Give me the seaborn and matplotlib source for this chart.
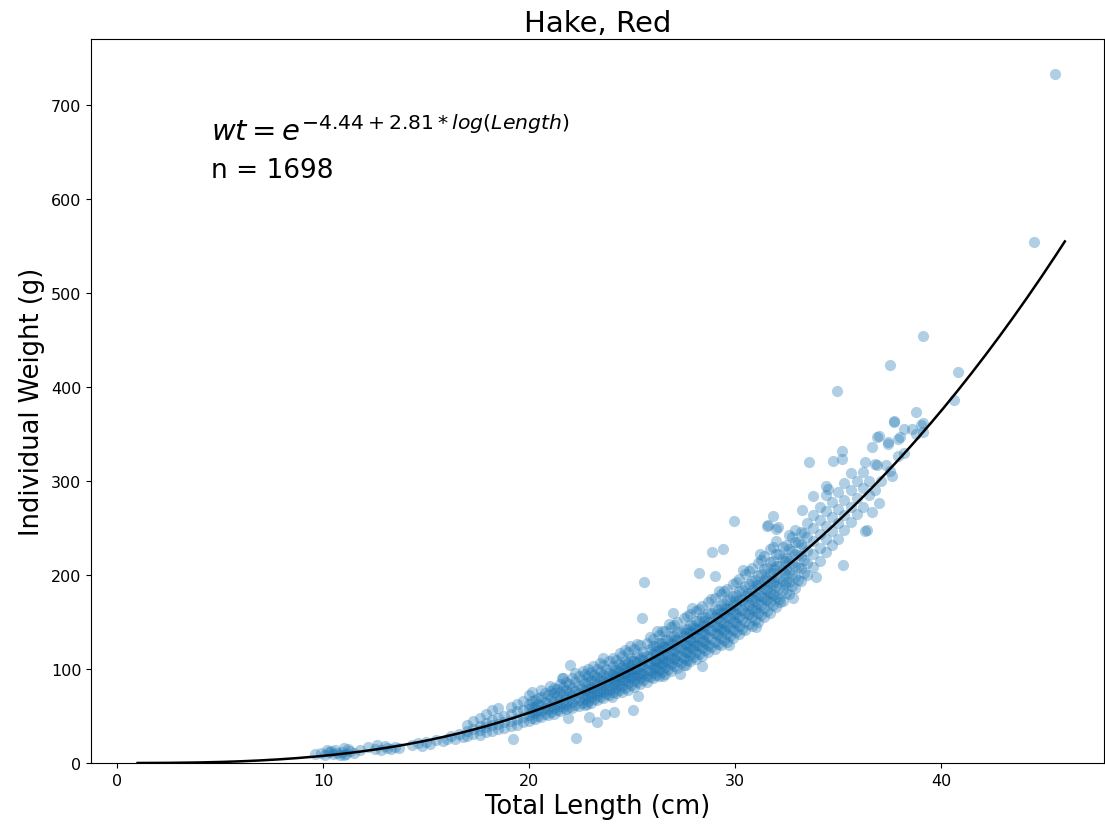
import numpy as np
import pandas as pd
import matplotlib
matplotlib.use('Agg')
import matplotlib.pyplot as plt
import seaborn as sns

# Coeficientes del ajuste mostrado en el grafico
intercepto = -4.44
pendiente = 2.81
n_total = 1698

# Peces pequenos (zona dispersa)
small_len = [9.6, 9.9, 10.1, 10.3, 10.5, 10.6, 10.8, 10.9, 11.0, 11.1, 11.3, 11.5, 11.8, 12.2, 12.5, 12.6, 12.8,
             13.0, 13.1, 13.3, 13.5, 13.7, 14.3, 14.6, 14.8, 15.0, 15.2, 15.5, 15.8, 16.0, 16.2, 16.4, 16.6, 16.8,
             10.4, 10.7, 11.0, 11.2, 10.2]
small_wt = [10, 11, 9, 12, 10, 14, 8, 12, 16, 10, 13, 11, 14, 17, 15, 19, 14,
            18, 16, 15, 17, 16, 19, 21, 18, 22, 20, 24, 23, 26, 29, 25, 31, 28,
            13, 11, 9, 15, 14]

# Banda principal: longitud -> pesos
band = {
    17.0: [29, 34, 40], 17.3: [31, 36, 45], 17.6: [30, 35, 39, 48], 17.9: [33, 38, 43, 52],
    18.2: [34, 40, 46, 56], 18.5: [36, 42, 48, 58], 18.8: [37, 44, 50], 19.1: [39, 45, 52, 60],
    19.4: [40, 47, 55, 63], 19.7: [44, 49, 56, 66], 20.0: [45, 51, 57, 63, 72], 20.3: [47, 53, 60, 67],
    20.6: [49, 55, 62, 70, 78], 20.9: [51, 57, 64, 72], 21.2: [52, 59, 66, 74, 80],
    21.5: [55, 61, 68, 76, 84], 21.8: [57, 63, 70, 78, 86], 22.1: [59, 65, 72, 80, 90],
    22.4: [61, 67, 74, 82, 92], 22.7: [62, 68, 73, 78, 85, 95], 23.0: [64, 70, 75, 81, 88, 97],
    23.3: [67, 72, 78, 84, 91, 100], 23.6: [69, 75, 81, 87, 94, 104], 23.9: [72, 78, 83, 89, 96, 108],
    24.2: [74, 80, 86, 92, 99, 110], 24.5: [76, 82, 88, 95, 102, 114], 24.8: [78, 85, 91, 98, 106, 118],
    25.1: [81, 87, 94, 100, 108, 121], 25.4: [84, 90, 96, 103, 111, 125], 25.7: [86, 93, 99, 106, 114, 128],
    26.0: [90, 96, 102, 109, 116, 124, 132], 26.3: [92, 99, 105, 112, 120, 128, 136],
    26.6: [95, 102, 109, 116, 123, 131, 140], 26.9: [98, 105, 112, 119, 127, 135, 145],
    27.2: [101, 108, 115, 123, 131, 139, 150], 27.5: [104, 112, 119, 127, 135, 143, 154],
    27.8: [108, 115, 123, 131, 139, 147, 158], 28.1: [111, 118, 126, 134, 142, 151, 162],
    28.4: [114, 122, 130, 138, 146, 155, 167], 28.7: [118, 126, 134, 142, 150, 159, 171],
    29.0: [121, 129, 138, 146, 155, 164, 176], 29.3: [125, 133, 142, 150, 159, 168, 180],
    29.6: [129, 137, 146, 155, 164, 173, 185], 29.9: [133, 141, 150, 159, 168, 178, 190],
    30.2: [137, 146, 155, 164, 173, 183, 196], 30.5: [141, 150, 159, 168, 178, 188, 201],
    30.8: [146, 155, 164, 174, 184, 194, 207], 31.1: [150, 160, 169, 179, 189, 200, 213],
    31.4: [155, 165, 175, 185, 195, 206, 220], 31.7: [160, 171, 181, 191, 202, 214, 228],
    32.0: [166, 177, 188, 198, 210, 222, 236], 32.3: [172, 184, 195, 206, 218, 230],
    32.6: [180, 192, 203, 215, 228, 242], 32.9: [186, 198, 210, 222, 235, 248],
    33.2: [194, 207, 220, 233, 246], 33.5: [200, 213, 226, 240, 255], 33.8: [208, 222, 236, 250, 264],
    34.1: [215, 229, 244, 258, 272], 34.4: [224, 238, 252, 268, 285], 34.7: [232, 247, 262, 278],
    35.0: [238, 255, 270, 288], 35.3: [248, 264, 280, 298], 35.6: [256, 272, 290, 308],
    35.9: [265, 282, 300], 36.2: [272, 292, 310], 36.5: [285, 300], 36.8: [290, 318],
    37.1: [300], 37.6: [305], 38.2: [330, 355], 38.6: [355], 39.0: [360],
}

# Columnas intermedias de la banda (mas densidad)
band_b = {
    20.15: [48, 54, 60, 66, 75], 20.45: [50, 56, 63, 69], 20.75: [52, 58, 65, 74],
    21.05: [54, 61, 69, 77], 21.35: [56, 63, 71, 79], 21.65: [58, 65, 73, 81, 90],
    21.95: [60, 68, 76, 84], 22.25: [62, 69, 77, 86, 96], 22.55: [64, 71, 79, 88],
    22.85: [66, 72, 79, 86, 92, 100], 23.15: [68, 74, 80, 87, 94], 23.45: [70, 77, 83, 89, 97, 106],
    23.75: [73, 79, 85, 92, 100], 24.05: [75, 82, 88, 95, 103, 112], 24.35: [78, 84, 91, 98, 105],
    24.65: [80, 87, 94, 101, 109, 120], 24.95: [83, 90, 97, 104, 112], 25.25: [86, 93, 100, 107, 116, 127],
    25.55: [88, 95, 102, 110, 118], 25.85: [91, 98, 105, 113, 121, 134], 26.15: [94, 101, 108, 116, 124],
    26.45: [97, 104, 112, 120, 128, 140], 26.75: [100, 107, 115, 123, 131], 27.05: [103, 111, 119, 127, 135, 147],
    27.35: [106, 114, 122, 130, 139], 27.65: [110, 118, 126, 134, 143, 156], 27.95: [113, 121, 129, 138, 147],
    28.25: [116, 124, 133, 142, 151, 164], 28.55: [120, 128, 137, 146, 155], 28.85: [123, 132, 141, 150, 160, 174],
    29.15: [127, 136, 145, 154, 164], 29.45: [131, 140, 149, 159, 169, 183], 29.75: [135, 144, 154, 164, 174],
    30.05: [139, 149, 158, 168, 179, 193], 30.35: [143, 153, 163, 173, 184], 30.65: [148, 158, 168, 178, 190, 204],
    30.95: [152, 162, 172, 183, 195], 31.25: [157, 168, 178, 189, 201, 216], 31.55: [162, 173, 184, 195, 207],
    31.85: [168, 179, 190, 202, 215, 230], 32.15: [174, 186, 197, 209, 222], 32.45: [181, 193, 205, 218, 232],
    32.75: [188, 200, 213, 226, 240], 33.05: [195, 208, 221, 235], 33.35: [202, 216, 230, 245],
}

# Nucleo mas denso junto a la curva
band_c = {
    24.1: [85, 92, 99], 24.6: [88, 96, 104], 25.0: [92, 100, 108], 25.5: [96, 105, 113],
    26.1: [101, 110, 119], 26.5: [106, 115, 124], 27.1: [112, 121, 131], 27.6: [118, 128, 138],
    28.0: [124, 134, 144], 28.5: [130, 140, 151], 29.1: [137, 147, 158], 29.5: [143, 154, 165],
    30.0: [150, 161, 172], 30.6: [158, 170, 181], 31.0: [165, 177, 189], 31.5: [173, 185, 197],
    31.9: [180, 193, 206], 32.4: [190, 202, 215],
}

# Puntos en los bordes de la banda
edge_len = [21.0, 21.6, 22.6, 23.1, 24.4, 24.9, 26.2, 26.8, 27.9, 29.2, 30.4, 31.2,
            22.8, 24.0, 26.5, 27.6, 29.7, 31.0, 32.8, 33.9]
edge_wt = [82, 90, 98, 103, 117, 124, 140, 148, 165, 183, 205, 222,
           63, 70, 92, 104, 126, 145, 175, 198]

# Puntos sueltos / atipicos
out_len = [19.2, 22.3, 25.05, 25.3, 24.1, 23.7, 23.3, 22.9, 21.9, 22.0,
           23.6, 25.6, 25.5, 27.0, 28.4, 27.3, 28.25, 29.0, 28.9, 29.4,
           29.95, 31.55, 31.85, 32.0, 32.1, 31.6, 33.25, 33.8, 34.5, 34.4,
           33.6, 34.75, 35.2, 35.2, 34.95, 35.25, 36.3, 36.4, 37.0, 36.65,
           36.65, 36.9, 37.4, 37.9, 37.7, 37.7, 37.0, 38.0, 37.4, 37.9,
           36.3, 36.9, 37.3, 37.5, 38.8, 39.1, 38.8, 39.1, 37.5, 39.1,
           40.8, 40.6, 44.5, 45.5, 32.2]
out_wt = [25, 26.5, 56, 71, 54, 52, 44, 49, 48, 104,
          112, 193, 154, 160, 103, 95, 202, 199, 224, 228,
          257, 252, 263, 249, 251, 253, 269, 284, 291, 295,
          320, 321, 323, 332, 396, 211, 247, 248, 276, 267,
          336, 347, 341, 345, 363, 364, 348, 347, 339, 327,
          320, 317, 317, 311, 373, 362, 350, 352, 423, 454,
          416, 386, 554, 733, 171]

bandas = (band, band_b, band_c)
band_len = [l for b in bandas for l, ws in b.items() for _ in ws]
band_wt = [w for b in bandas for ws in b.values() for w in ws]
df = pd.DataFrame({'Length': small_len + band_len + edge_len + out_len,
                   'Weight': small_wt + band_wt + edge_wt + out_wt})

# curva del modelo ajustado
curva_x = np.linspace(1, 46, 200)
curva_y = np.exp(intercepto + pendiente * np.log(curva_x))

fig = plt.figure(figsize=(11.05, 8.28), dpi=100)
ax = fig.add_axes([91 / 1105, 64 / 828, 1013 / 1105, 724 / 828])
sns.scatterplot(data=df, x='Length', y='Weight', color='#1f77b4', alpha=0.35, s=65, linewidth=0, ax=ax)
ax.plot(curva_x, curva_y, color='black', lw=1.8)

ax.set_xlim(-1.26, 47.9)
ax.set_ylim(0, 770)
ax.set_title('Hake, Red', fontsize=21)
ax.set_xlabel('Total Length (cm)', fontsize=18.5)
ax.set_ylabel('Individual Weight (g)', fontsize=18.5)
ax.tick_params(labelsize=11.5)
ax.text(4.55, 663, r'$wt = e^{%.2f + %.2f * log(Length)}$' % (intercepto, pendiente), fontsize=21)
ax.text(4.55, 623, f'n = {n_total}', fontsize=19)

fig.savefig('out.png', dpi=100)
